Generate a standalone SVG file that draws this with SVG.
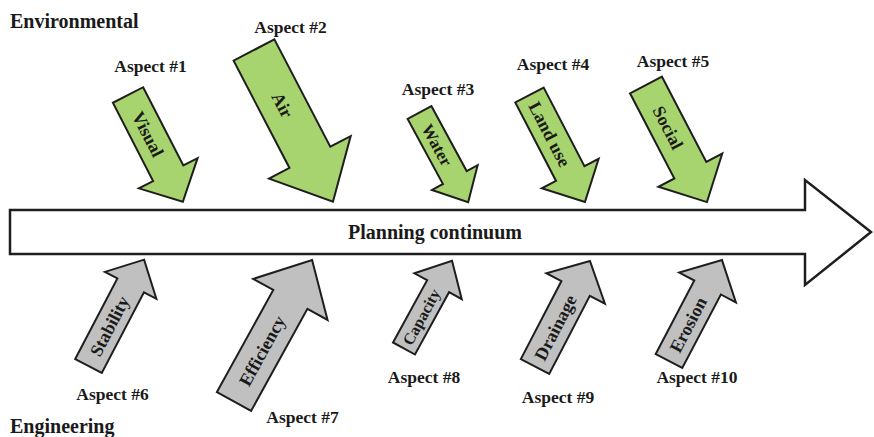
<svg xmlns="http://www.w3.org/2000/svg" width="874" height="437" viewBox="0 0 874 437">
<style>
text{font-family:"Liberation Serif","Times New Roman",serif;font-weight:bold;fill:#1a1a1a}
.hdr{font-size:20px}
.asp{font-size:17.5px;text-anchor:middle}
.in{font-size:18px;text-anchor:middle}
.g{fill:#a8d46f;stroke:#1e1e1e;stroke-width:2;stroke-linejoin:miter}
.y{fill:#c0c0c0;stroke:#1e1e1e;stroke-width:2;stroke-linejoin:miter}
.main{fill:#fff;stroke:#1e1e1e;stroke-width:2.5}
</style>
<rect width="874" height="437" fill="#fff"/>
<g id="main-arrow">
<polygon class="main" points="10,210 805,210 805,180 871,232 805,285 805,254 10,254"/>
<text x="435" y="239" class="hdr" text-anchor="middle">Planning continuum</text>
</g>
<text x="10" y="28" class="hdr">Environmental</text>
<text x="10" y="433" class="hdr">Engineering</text>
<g id="connectors">
<g id="a1" transform="translate(128,95) rotate(62.8)">
<polygon class="g" points="0,-17 88,-17 88,-33 120,0 88,33 88,17 0,17"/>
<text class="in" x="44" y="0" dy="0.35em">Visual</text>
</g>
<g id="a2" transform="translate(254,50) rotate(62.5)">
<polygon class="g" points="0,-23 121,-23 121,-46 171,0 121,46 121,23 0,23"/>
<text class="in" x="62" y="0" dy="0.35em">Air</text>
</g>
<g id="a3" transform="translate(419.5,112.5) rotate(61.5)">
<polygon class="g" points="0,-13.5 74,-13.5 74,-26 102,0 74,26 74,13.5 0,13.5"/>
<text class="in" x="37" y="0" dy="0.35em" style="font-size:17px">Water</text>
</g>
<g id="a4" transform="translate(529.5,95) rotate(62.6)">
<polygon class="g" points="0,-16 88.5,-16 88.5,-32 120.5,0 88.5,32 88.5,16 0,16"/>
<text class="in" x="44" y="0" dy="0.35em">Land use</text>
</g>
<g id="a5" transform="translate(646,85) rotate(62.5)">
<polygon class="g" points="0,-18 96,-18 96,-36 132,0 96,36 96,18 0,18"/>
<text class="in" x="48" y="0" dy="0.35em">Social</text>
</g>
<g id="a6" transform="translate(88.5,366) rotate(-62.4)">
<polygon class="y" points="0,-15 91,-15 91,-29 120,0 91,29 91,15 0,15"/>
<text class="in" x="45" y="0" dy="0.35em">Stability</text>
</g>
<g id="a7" transform="translate(234,401.5) rotate(-61.1)">
<polygon class="y" points="0,-19.5 116.6,-19.5 116.6,-42.5 161.6,0 116.6,42.5 116.6,19.5 0,19.5"/>
<text class="in" x="58" y="0" dy="0.35em">Efficiency</text>
</g>
<g id="a8" transform="translate(404,348.5) rotate(-61.3)">
<polygon class="y" points="0,-12.5 71,-12.5 71,-27 100,0 71,27 71,12.5 0,12.5"/>
<text class="in" x="36" y="0" dy="0.35em" style="font-size:16px">Capacity</text>
</g>
<g id="a9" transform="translate(535,366.5) rotate(-62.5)">
<polygon class="y" points="0,-16 88,-16 88,-33 119,0 88,33 88,16 0,16"/>
<text class="in" x="44" y="0" dy="0.35em">Drainage</text>
</g>
<g id="a10" transform="translate(669,361) rotate(-62.3)">
<polygon class="y" points="0,-15 83,-15 83,-32 114,0 83,32 83,15 0,15"/>
<text class="in" x="41" y="0" dy="0.35em">Erosion</text>
</g>
</g>
<g id="labels">
<text class="asp" x="150.5" y="72">Aspect #1</text>
<text class="asp" x="290.5" y="33">Aspect #2</text>
<text class="asp" x="438" y="95">Aspect #3</text>
<text class="asp" x="553" y="70">Aspect #4</text>
<text class="asp" x="673" y="67">Aspect #5</text>
<text class="asp" x="112.5" y="400">Aspect #6</text>
<text class="asp" x="302.5" y="423">Aspect #7</text>
<text class="asp" x="424" y="383">Aspect #8</text>
<text class="asp" x="558" y="403">Aspect #9</text>
<text class="asp" x="697" y="383">Aspect #10</text>
</g>
</svg>
